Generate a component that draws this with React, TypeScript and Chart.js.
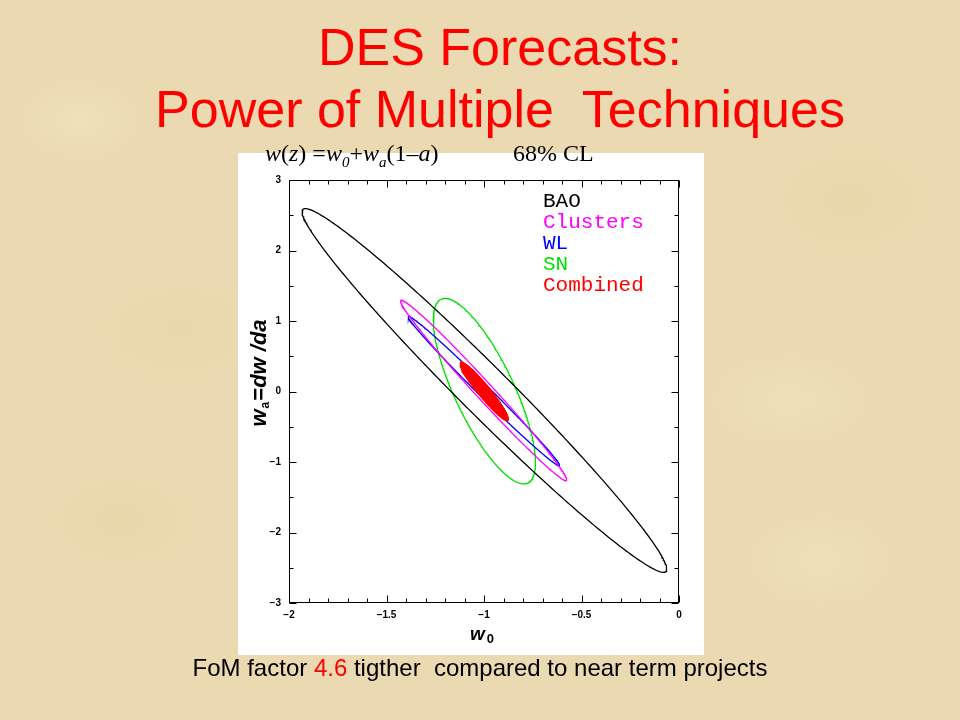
import React, { useEffect, useRef } from "react";
import { Chart, registerables } from "chart.js";

Chart.register(...registerables);

// ---- data ----
const seriesNames = ["BAO", "Clusters", "WL", "SN", "Combined"];
const seriesColors = ["#000000", "#ff00ff", "#0000ff", "#00e000", "#ff0000"];
// 68% CL ellipses in (w0, wa): centre, half-extent along each axis, correlation
const centerW0 = [-0.998, -1.002, -1.001, -0.998, -0.999];
const centerWa = [0.015, 0.015, 0.007, 0.005, 0.003];
const halfRangeW0 = [0.935, 0.426, 0.388, 0.262, 0.124];
const halfRangeWa = [2.58, 1.28, 1.06, 1.315, 0.415];
const correlation = [-0.982, -0.990, -0.994, -0.77, -0.95];
const filledSeries = [false, false, false, false, true];

const xMajorTicks = [-2, -1.5, -1, -0.5, 0];
const xMinorTicks = [-1.9, -1.8, -1.7, -1.6, -1.4, -1.3, -1.2, -1.1, -0.9, -0.8, -0.7, -0.6, -0.4, -0.3, -0.2, -0.1];
const yMajorTicks = [-3, -2, -1, 0, 1, 2, 3];
const yMinorTicks = [-2.5, -1.5, -0.5, 0.5, 1.5, 2.5];

const ELLIPSE_STEPS = 360;

function ellipsePoints(i: number) {
  const pts: { x: number; y: number }[] = [];
  const delta = Math.acos(correlation[i]);
  for (let k = 0; k <= ELLIPSE_STEPS; k++) {
    const t = (2 * Math.PI * k) / ELLIPSE_STEPS;
    pts.push({
      x: centerW0[i] + halfRangeW0[i] * Math.cos(t),
      y: centerWa[i] + halfRangeWa[i] * Math.cos(t - delta),
    });
  }
  return pts;
}

function fmt(v: number) {
  const s = String(Math.abs(v));
  return v < 0 ? "\u2212" + s : s;
}

const framePlugin = {
  id: "frameTicks",
  afterDatasetsDraw(chart: any) {
    const { ctx, chartArea: a, scales } = chart;
    const xs = scales.x;
    const ys = scales.y;
    ctx.save();
    ctx.strokeStyle = "#000";
    ctx.lineWidth = 1;
    const L = Math.round(a.left) + 0.5;
    const R = Math.round(a.right) - 0.5;
    const T = Math.round(a.top) + 0.5;
    const B = Math.round(a.bottom) - 0.5;
    ctx.strokeRect(L, T, R - L, B - T);
    ctx.beginPath();
    const xt = (v: number, len: number) => {
      const p = Math.round(xs.getPixelForValue(v)) + 0.5;
      ctx.moveTo(p, B);
      ctx.lineTo(p, B - len);
      ctx.moveTo(p, T);
      ctx.lineTo(p, T + len);
    };
    const yt = (v: number, len: number) => {
      const p = Math.round(ys.getPixelForValue(v)) + 0.5;
      ctx.moveTo(L, p);
      ctx.lineTo(L + len, p);
      ctx.moveTo(R, p);
      ctx.lineTo(R - len, p);
    };
    xMajorTicks.forEach((v) => xt(v, 7));
    xMinorTicks.forEach((v) => xt(v, 4));
    yMajorTicks.forEach((v) => yt(v, 7));
    yMinorTicks.forEach((v) => yt(v, 4));
    ctx.stroke();
    ctx.restore();
  },
};

const legendPlugin = {
  id: "inlineLegend",
  afterDraw(chart: any) {
    const { ctx, chartArea: a } = chart;
    ctx.save();
    ctx.font = '21px "Liberation Mono"';
    ctx.textBaseline = "alphabetic";
    ctx.textAlign = "left";
    chart.data.datasets.forEach((ds: any, i: number) => {
      ctx.fillStyle = ds.borderColor;
      ctx.fillText(ds.label, a.left + 254, a.top + 27 + 21 * i);
    });
    ctx.restore();
  },
};

const axisTitlePlugin = {
  id: "axisTitles",
  afterDraw(chart: any) {
    const { ctx, chartArea: a } = chart;
    ctx.save();
    ctx.fillStyle = "#000";
    ctx.textBaseline = "alphabetic";
    ctx.textAlign = "left";
    // x title: w0
    const xc = (a.left + a.right) / 2;
    ctx.font = 'italic bold 19px "Liberation Sans"';
    const ww = ctx.measureText("w").width;
    const xStart = xc - 14;
    ctx.fillText("w", xStart, a.bottom + 37);
    ctx.font = 'bold 13px "Liberation Sans"';
    ctx.fillText("0", xStart + ww + 2, a.bottom + 40);
    // y title: wa = dw / da (rotated)
    ctx.translate(a.left - 23, (a.top + a.bottom) / 2 + 35);
    ctx.rotate(-Math.PI / 2);
    let x = 0;
    ctx.font = 'italic bold 22px "Liberation Sans"';
    ctx.fillText("w", x, 0);
    x += ctx.measureText("w").width + 1;
    ctx.font = 'bold 12px "Liberation Sans"';
    ctx.fillText("a", x, 3);
    x += ctx.measureText("a").width + 1;
    ctx.font = 'bold 22px "Liberation Sans"';
    ctx.fillText("=", x, 0);
    x += ctx.measureText("=").width;
    ctx.font = 'italic bold 22px "Liberation Sans"';
    ctx.fillText("dw /da", x, 0);
    ctx.restore();
  },
};

export default function App() {
  const canvasRef = useRef<HTMLCanvasElement | null>(null);

  useEffect(() => {
    const canvas = canvasRef.current;
    if (!canvas) return;
    const datasets = seriesNames.map((name, i) => ({
      label: name,
      data: ellipsePoints(i),
      showLine: true,
      pointRadius: 0,
      pointHoverRadius: 0,
      borderColor: seriesColors[i],
      backgroundColor: filledSeries[i] ? seriesColors[i] : "rgba(0,0,0,0)",
      borderWidth: 1.3,
      fill: filledSeries[i] ? "shape" : false,
      tension: 0,
      order: filledSeries[i] ? 0 : i + 1,
    }));
    const chart = new Chart(canvas, {
      type: "scatter",
      data: { datasets } as any,
      options: {
        animation: false,
        responsive: false,
        maintainAspectRatio: false,
        events: [],
        layout: { padding: { left: 238, right: 281, top: 180, bottom: 65 } },
        plugins: {
          legend: { display: false },
          tooltip: { enabled: false },
          title: { display: false },
        },
        scales: {
          x: {
            type: "linear",
            min: -2,
            max: 0,
            afterBuildTicks: (s: any) => {
              s.ticks = xMajorTicks.map((v) => ({ value: v }));
            },
            afterFit: (s: any) => {
              s.height = 52;
            },
            grid: { display: false, drawTicks: false },
            border: { display: false },
            ticks: {
              color: "#000",
              padding: 6,
              maxRotation: 0,
              autoSkip: false,
              font: { family: '"Liberation Sans"', size: 10, weight: "bold" },
              callback: (v: any) => fmt(Number(v)),
            },
          },
          y: {
            type: "linear",
            min: -3,
            max: 3,
            afterBuildTicks: (s: any) => {
              s.ticks = yMajorTicks.map((v) => ({ value: v }));
            },
            afterFit: (s: any) => {
              s.width = 51;
            },
            grid: { display: false, drawTicks: false },
            border: { display: false },
            ticks: {
              color: "#000",
              padding: 8,
              autoSkip: false,
              font: { family: '"Liberation Sans"', size: 10, weight: "bold" },
              callback: (v: any) => fmt(Number(v)),
            },
          },
        },
      } as any,
      plugins: [framePlugin, legendPlugin, axisTitlePlugin],
    });
    return () => chart.destroy();
  }, []);

  const parchment =
    "radial-gradient(ellipse 90px 60px at 80px 120px, rgba(246,236,205,0.35), rgba(246,236,205,0) 70%)," +
    "radial-gradient(ellipse 120px 80px at 850px 200px, rgba(222,200,150,0.22), rgba(222,200,150,0) 70%)," +
    "radial-gradient(ellipse 110px 70px at 120px 520px, rgba(222,200,150,0.22), rgba(222,200,150,0) 70%)," +
    "radial-gradient(ellipse 110px 70px at 820px 560px, rgba(246,236,205,0.3), rgba(246,236,205,0) 70%)," +
    "radial-gradient(ellipse 130px 80px at 180px 330px, rgba(224,202,152,0.2), rgba(224,202,152,0) 70%)," +
    "radial-gradient(ellipse 120px 70px at 790px 400px, rgba(246,236,205,0.3), rgba(246,236,205,0) 70%)";

  const serif = '"Liberation Serif", "Times New Roman", serif';

  return (
    <div
      style={{
        position: "absolute",
        left: 0,
        top: 0,
        width: 960,
        height: 720,
        overflow: "hidden",
        backgroundColor: "#ebdab1",
        backgroundImage: parchment,
      }}
    >
      <div
        style={{
          position: "absolute",
          left: 238,
          top: 153,
          width: 466,
          height: 502,
          background: "#ffffff",
        }}
      />
      <canvas
        ref={canvasRef}
        width={960}
        height={720}
        style={{ position: "absolute", left: 0, top: 0, width: 960, height: 720 }}
      />
      <div
        style={{
          position: "absolute",
          left: 40,
          width: 920,
          top: 16,
          textAlign: "center",
          color: "#ff0000",
          fontFamily: '"Liberation Sans", Arial, sans-serif',
          fontSize: 52,
          lineHeight: "62px",
          whiteSpace: "pre",
        }}
      >
        {"DES Forecasts:\nPower of Multiple  Techniques"}
      </div>
      <div
        style={{
          position: "absolute",
          left: 265,
          top: 141,
          fontFamily: serif,
          fontSize: 24,
          lineHeight: "24px",
          whiteSpace: "nowrap",
          color: "#000",
        }}
      >
        <i>w</i>(<i>z</i>) =<i>w</i>
        <sub style={{ fontSize: 15, fontStyle: "italic", lineHeight: 0 }}>0</sub>+<i>w</i>
        <sub style={{ fontSize: 15, fontStyle: "italic", lineHeight: 0 }}>a</sub>(1–<i>a</i>)
      </div>
      <div
        style={{
          position: "absolute",
          left: 513,
          top: 141,
          fontFamily: serif,
          fontSize: 24,
          lineHeight: "24px",
          whiteSpace: "nowrap",
          color: "#000",
        }}
      >
        68% CL
      </div>
      <div
        style={{
          position: "absolute",
          left: 0,
          width: 960,
          top: 656,
          textAlign: "center",
          fontFamily: '"Liberation Sans", Arial, sans-serif',
          fontSize: 24,
          lineHeight: "24px",
          whiteSpace: "pre",
          color: "#000",
        }}
      >
        FoM factor <span style={{ color: "#ff0000" }}>4.6</span> tigther  compared to near term projects
      </div>
    </div>
  );
}
